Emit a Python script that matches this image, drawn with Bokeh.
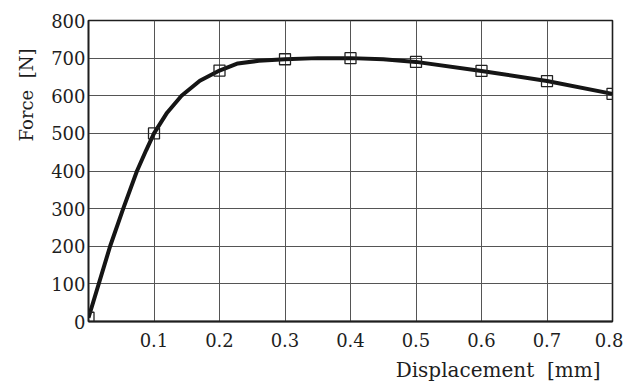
from bokeh.plotting import figure
from bokeh.models import FixedTicker, Range1d, Title
from bokeh.embed import file_html
from bokeh.resources import INLINE

# Smooth curve
curve_x = [0.0, 0.033, 0.053, 0.074, 0.088, 0.1, 0.12, 0.142, 0.17, 0.2, 0.228, 0.26, 0.3, 0.35, 0.4, 0.45, 0.5, 0.6, 0.7, 0.8]
curve_y = [10, 200, 300, 400, 455, 500, 555, 600, 640, 667, 686, 693, 697, 700, 700, 697, 690, 666, 639, 605]

# Square markers
marker_x = [0.0, 0.1, 0.2, 0.3, 0.4, 0.5, 0.6, 0.7, 0.8]
marker_y = [10, 500, 667, 697, 700, 690, 666, 639, 605]

x_ticks = [0.1, 0.2, 0.3, 0.4, 0.5, 0.6, 0.7, 0.8]
y_ticks = [0, 100, 200, 300, 400, 500, 600, 700, 800]

FONT = "DejaVu Serif"
INK = "#1e1e1e"
NB = "\u00a0"

p = figure(width=623, height=388, output_backend="svg", toolbar_location=None,
           x_range=Range1d(0, 0.8), y_range=Range1d(0, 800),
           min_border_left=88, min_border_right=11, min_border_top=20, min_border_bottom=66)

p.background_fill_color = "white"
p.border_fill_color = "white"
p.outline_line_color = INK
p.outline_line_width = 1.6

for ax in (p.xaxis[0], p.yaxis[0]):
    ax.major_tick_out = 0
    ax.major_tick_in = 0
    ax.minor_tick_out = 0
    ax.minor_tick_in = 0
    ax.axis_line_color = INK
    ax.major_label_text_font = FONT
    ax.major_label_text_font_size = "18px"
    ax.major_label_text_color = INK

p.xaxis[0].axis_line_width = 2.2
p.yaxis[0].axis_line_width = 1.6
p.xaxis.ticker = FixedTicker(ticks=x_ticks)
p.yaxis.ticker = FixedTicker(ticks=y_ticks)
p.xaxis.major_label_standoff = 11
p.yaxis.major_label_standoff = 3

p.xgrid.ticker = FixedTicker(ticks=x_ticks)
p.ygrid.ticker = FixedTicker(ticks=y_ticks)
p.grid.grid_line_color = "#555555"
p.grid.grid_line_width = 1

p.line(curve_x, curve_y, line_color="#151515", line_width=4)
p.scatter(marker_x, marker_y, marker="square", size=11, fill_color=None,
          line_color="#222222", line_width=1.3)

p.add_layout(Title(text="Force" + NB * 2 + "[N]", align="right", offset=28, standoff=24,
                   text_font=FONT, text_font_size="18px", text_color=INK,
                   text_font_style="normal"), "left")
p.add_layout(Title(text="Displacement" + NB * 2 + "[mm]", align="right", offset=12, standoff=13,
                   text_font=FONT, text_font_size="20px", text_color=INK,
                   text_font_style="normal"), "below")

open("out.html", "w").write(file_html(p, INLINE))
